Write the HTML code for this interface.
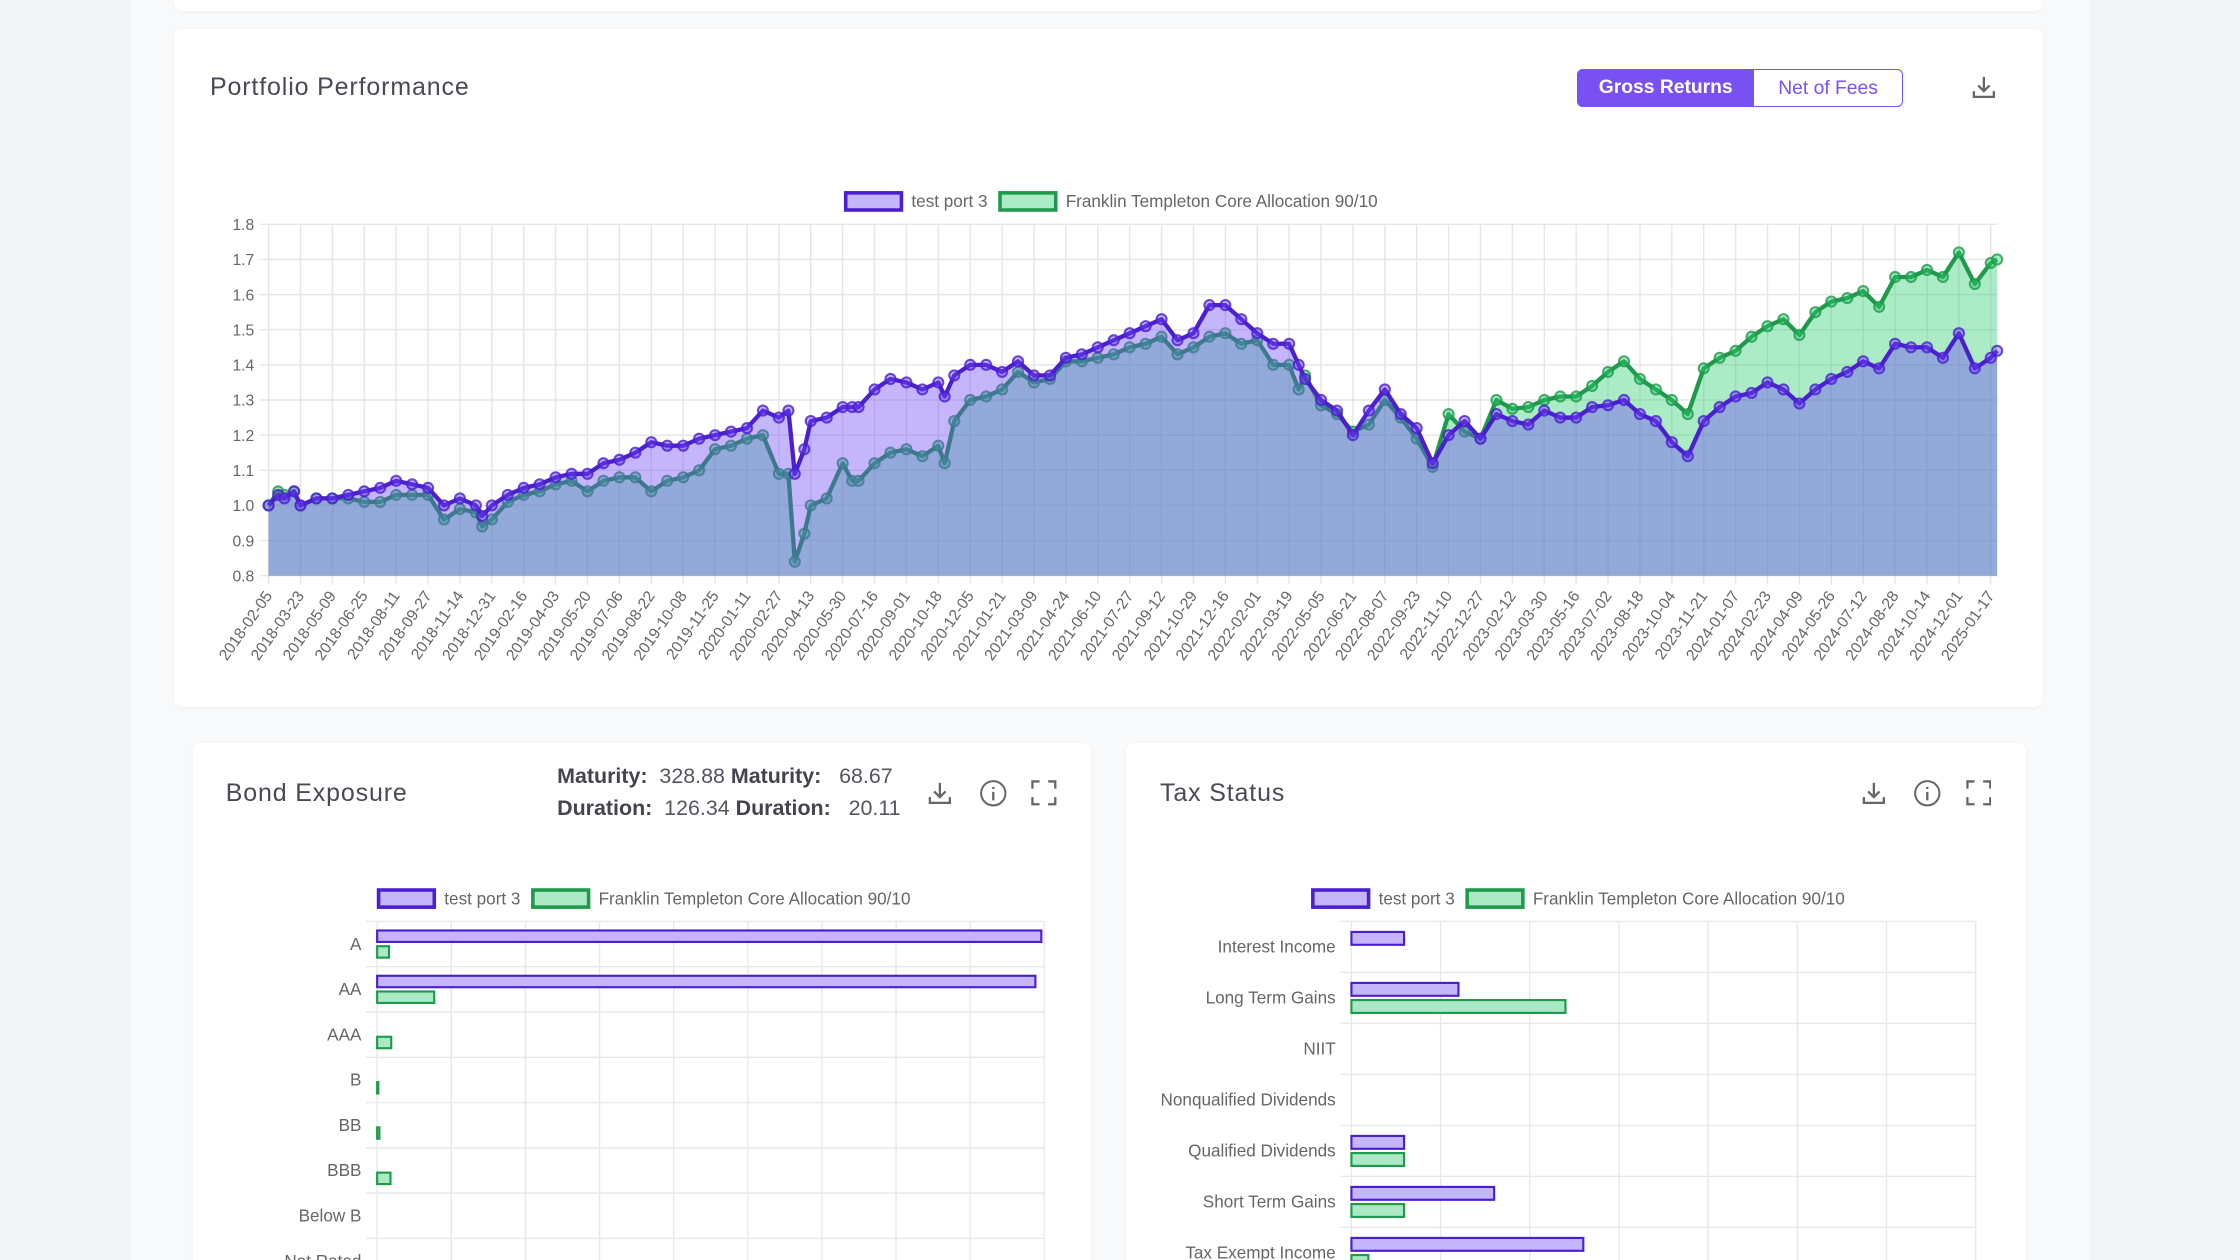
<!DOCTYPE html>
<html><head><meta charset="utf-8">
<style>
html,body{margin:0;padding:0;width:2240px;height:1260px;overflow:hidden;background:#f3f4f8;}
#root{position:relative;width:1568px;height:882px;zoom:1.4285714;font-family:"Liberation Sans",sans-serif;overflow:hidden;}
.col{position:absolute;left:92px;top:0;width:1370px;height:882px;background:#f8f9fb;}
.card{position:absolute;background:#fff;border-radius:6px;box-shadow:0 1px 3px rgba(0,0,0,0.04);}
.title{position:absolute;font-size:17.5px;color:#4a4a55;letter-spacing:0.6px;}
.btn{position:absolute;top:48px;height:27px;line-height:27px;font-size:13.5px;text-align:center;box-sizing:border-box;}
.icon{position:absolute;}
.stat{position:absolute;font-size:15px;color:#55555f;white-space:nowrap;}
.stat b{font-weight:bold;color:#44444f;}
</style></head><body>
<div id="root">
<div class="col"></div>
<div class="card" style="left:122px;top:-10px;width:1308px;height:18px"></div>

<div class="card" style="left:122px;top:20px;width:1308px;height:475px"></div>
<div class="title" style="left:147px;top:51px">Portfolio Performance</div>
<div class="btn" style="left:1104px;width:124px;background:#7950f2;color:#fff;border-radius:4px 0 0 4px;font-weight:bold;">Gross Returns</div>
<div class="btn" style="left:1228px;width:104px;background:#fff;color:#7950f2;border:1px solid #7950f2;border-left:none;border-radius:0 4px 4px 0;">Net of Fees</div>
<svg class="icon" style="left:1380px;top:52px" width="18" height="18" viewBox="0 0 18 18"><path d="M9 2v10M5 8l4 4 4-4M2 12v4h14v-4" fill="none" stroke="#666" stroke-width="1.6"/></svg>

<svg id="main" style="position:absolute;left:0;top:0" width="1568" height="500"></svg>

<div class="card" style="left:135px;top:520px;width:629px;height:400px"></div>
<div class="title" style="left:158px;top:545px">Bond Exposure</div>
<div class="stat" style="left:390px;top:535px"><b>Maturity:</b>&nbsp;&nbsp;328.88 <b>Maturity:</b>&nbsp;&nbsp;&nbsp;68.67</div>
<div class="stat" style="left:390px;top:557px"><b>Duration:</b>&nbsp;&nbsp;126.34 <b>Duration:</b>&nbsp;&nbsp;&nbsp;20.11</div>
<svg class="icon" style="left:649px;top:546px" width="18" height="18" viewBox="0 0 18 18"><path d="M9 2v10M5 8l4 4 4-4M2 12v4h14v-4" fill="none" stroke="#666" stroke-width="1.6"/></svg>
<svg class="icon" style="left:685px;top:545px" width="20" height="20" viewBox="0 0 20 20"><circle cx="10" cy="10" r="8.5" fill="none" stroke="#666" stroke-width="1.4"/><path d="M10 9v6M10 5.5v1.5" stroke="#666" stroke-width="1.6"/></svg>
<svg class="icon" style="left:722px;top:546px" width="18" height="18" viewBox="0 0 18 18"><path d="M1 6V1h5M12 1h5v5M17 12v5h-5M6 17H1v-5" fill="none" stroke="#666" stroke-width="1.6"/></svg>

<div class="card" style="left:788px;top:520px;width:630px;height:400px"></div>
<div class="title" style="left:812px;top:545px">Tax Status</div>
<svg class="icon" style="left:1303px;top:546px" width="18" height="18" viewBox="0 0 18 18"><path d="M9 2v10M5 8l4 4 4-4M2 12v4h14v-4" fill="none" stroke="#666" stroke-width="1.6"/></svg>
<svg class="icon" style="left:1339px;top:545px" width="20" height="20" viewBox="0 0 20 20"><circle cx="10" cy="10" r="8.5" fill="none" stroke="#666" stroke-width="1.4"/><path d="M10 9v6M10 5.5v1.5" stroke="#666" stroke-width="1.6"/></svg>
<svg class="icon" style="left:1376px;top:546px" width="18" height="18" viewBox="0 0 18 18"><path d="M1 6V1h5M12 1h5v5M17 12v5h-5M6 17H1v-5" fill="none" stroke="#666" stroke-width="1.6"/></svg>

<svg id="bond" style="position:absolute;left:0;top:0" width="1568" height="882"></svg>
<svg id="tax" style="position:absolute;left:0;top:0" width="1568" height="882"></svg>
</div>
<script>
// ---- Portfolio performance data ----
const tickLabels = ["2018-02-05","2018-03-23","2018-05-09","2018-06-25","2018-08-11","2018-09-27","2018-11-14","2018-12-31","2019-02-16","2019-04-03","2019-05-20","2019-07-06","2019-08-22","2019-10-08","2019-11-25","2020-01-11","2020-02-27","2020-04-13","2020-05-30","2020-07-16","2020-09-01","2020-10-18","2020-12-05","2021-01-21","2021-03-09","2021-04-24","2021-06-10","2021-07-27","2021-09-12","2021-10-29","2021-12-16","2022-02-01","2022-03-19","2022-05-05","2022-06-21","2022-08-07","2022-09-23","2022-11-10","2022-12-27","2023-02-12","2023-03-30","2023-05-16","2023-07-02","2023-08-18","2023-10-04","2023-11-21","2024-01-07","2024-02-23","2024-04-09","2024-05-26","2024-07-12","2024-08-28","2024-10-14","2024-12-01","2025-01-17"];
const yTicks = [0.8,0.9,1.0,1.1,1.2,1.3,1.4,1.5,1.6,1.7,1.8];
// time position in tick periods
const timePos = [0,0.3,0.5,0.8,1,1.5,2,2.5,3,3.5,4,4.5,5,5.5,6,6.5,6.7,7,7.5,8,8.5,9,9.5,10,10.5,11,11.5,12,12.5,13,13.5,14,14.5,15,15.5,16,16.3,16.5,16.8,17,17.5,18,18.3,18.5,19,19.5,20,20.5,21,21.2,21.5,22,22.5,23,23.5,24,24.5,25,25.5,26,26.5,27,27.5,28,28.5,29,29.5,30,30.5,31,31.5,32,32.3,32.5,33,33.5,34,34.5,35,35.5,36,36.5,37,37.5,38,38.5,39,39.5,40,40.5,41,41.5,42,42.5,43,43.5,44,44.5,45,45.5,46,46.5,47,47.5,48,48.5,49,49.5,50,50.5,51,51.5,52,52.5,53,53.5,54,54.2];
const testPort3 = [1.00,1.03,1.02,1.04,1.00,1.02,1.02,1.03,1.04,1.05,1.07,1.06,1.05,1.00,1.02,1.00,0.97,1.00,1.03,1.05,1.06,1.08,1.09,1.09,1.12,1.13,1.15,1.18,1.17,1.17,1.19,1.20,1.21,1.22,1.27,1.25,1.27,1.09,1.16,1.24,1.25,1.28,1.28,1.28,1.33,1.36,1.35,1.33,1.35,1.31,1.37,1.40,1.40,1.38,1.41,1.37,1.37,1.42,1.43,1.45,1.47,1.49,1.51,1.53,1.47,1.49,1.57,1.57,1.53,1.49,1.46,1.46,1.40,1.36,1.30,1.27,1.20,1.27,1.33,1.26,1.22,1.12,1.20,1.24,1.19,1.26,1.24,1.23,1.27,1.25,1.25,1.28,1.285,1.30,1.26,1.24,1.18,1.14,1.24,1.28,1.31,1.32,1.35,1.33,1.29,1.33,1.36,1.38,1.41,1.39,1.46,1.45,1.45,1.42,1.49,1.39,1.42,1.44];
const franklin = [1.00,1.04,1.03,1.04,1.00,1.02,1.02,1.02,1.01,1.01,1.03,1.03,1.03,0.96,0.99,0.98,0.94,0.96,1.01,1.03,1.04,1.06,1.07,1.04,1.07,1.08,1.08,1.04,1.07,1.08,1.10,1.16,1.17,1.19,1.20,1.09,1.09,0.84,0.92,1.00,1.02,1.12,1.07,1.07,1.12,1.15,1.16,1.14,1.17,1.12,1.24,1.30,1.31,1.33,1.38,1.35,1.36,1.41,1.41,1.42,1.43,1.45,1.46,1.48,1.43,1.45,1.48,1.49,1.46,1.47,1.40,1.40,1.33,1.37,1.285,1.26,1.21,1.23,1.30,1.25,1.19,1.11,1.26,1.21,1.19,1.30,1.275,1.28,1.30,1.31,1.31,1.34,1.38,1.41,1.36,1.33,1.30,1.26,1.39,1.42,1.44,1.48,1.51,1.53,1.485,1.55,1.58,1.59,1.61,1.565,1.65,1.65,1.67,1.65,1.72,1.63,1.69,1.70];

// ---- Bond exposure data ----
const bondCats = ["A","AA","AAA","B","BB","BBB","Below B","Not Rated"];
const bondTest = [89.6,88.8,0,0,0,0,0,0];
const bondFranklin = [1.6,7.7,1.9,0.1,0.3,1.8,0,0];
// ---- Tax status data ----
const taxCats = ["Interest Income","Long Term Gains","NIIT","Nonqualified Dividends","Qualified Dividends","Short Term Gains","Tax Exempt Income"];
const taxTest = [0.59,1.2,0,0,0.59,1.6,2.6];
const taxFranklin = [0,2.4,0,0,0.59,0.59,0.19];

const NS="http://www.w3.org/2000/svg";
function mk(parent,tag,attrs){const e=document.createElementNS(NS,tag);for(const k in attrs)e.setAttribute(k,attrs[k]);parent.appendChild(e);return e;}

// ---- main chart ----
(function(){
const svg=document.getElementById('main');
const X0=188,X1=1398,Y0=403,Y1=157,tMax=54.2,vMin=0.8,vMax=1.8;
const xs=t=>X0+(t/tMax)*(X1-X0);
const ys=v=>Y0-(v-vMin)/(vMax-vMin)*(Y0-Y1);
yTicks.forEach(v=>{
  const l=mk(svg,'line',{x1:X0-6,x2:X1,y1:ys(v),y2:ys(v),stroke:'#e6e6e6','stroke-width':1});
  
  
  const t=mk(svg,'text',{x:X0-10,y:ys(v)+4,'text-anchor':'end','font-size':11,fill:'#666','font-family':'Liberation Sans'});
  t.textContent=v.toFixed(1);
  
  
});
tickLabels.forEach((lab,i)=>{
  const x=xs(i);
  const l=mk(svg,'line',{x1:x,x2:x,y1:Y1,y2:Y0+6,stroke:'#e6e6e6','stroke-width':1});
  
  
  const t=mk(svg,'text',{x:0,y:0,'text-anchor':'end','font-size':11,fill:'#666','font-family':'Liberation Sans',transform:`translate(${x+3},${Y0+14}) rotate(-55)`});
  t.textContent=lab;
  
  
});
function areaPath(vals){let d=`M${xs(timePos[0])},${Y0}`;vals.forEach((v,i)=>d+=`L${xs(timePos[i])},${ys(v)}`);d+=`L${xs(timePos[timePos.length-1])},${Y0}Z`;return d;}
function linePath(vals){return vals.map((v,i)=>(i?'L':'M')+xs(timePos[i])+','+ys(v)).join('');}
function series(vals,fill,stroke,name){
  const a=mk(svg,'path',{d:areaPath(vals),fill:fill});
  
  
  const l=mk(svg,'path',{d:linePath(vals),fill:'none',stroke:stroke,'stroke-width':3,'stroke-linejoin':'round'});
  
  
  vals.forEach((v,i)=>{
    const c=mk(svg,'circle',{cx:xs(timePos[i]),cy:ys(v),r:3.5,fill:fill,stroke:stroke,'stroke-width':1.5,'stroke-opacity':0.8});
    
    
  });
}
series(franklin,'rgba(46,204,113,0.4)','#1f9a4c','franklin');
series(testPort3,'rgba(110,70,245,0.4)','#4a1fcf','test-port-3');
const lg=[[591,'test port 3','rgba(110,70,245,0.4)','#4a1fcf'],[699,'Franklin Templeton Core Allocation 90/10','rgba(46,204,113,0.4)','#1f9a4c']];
lg.forEach(([x,t,f,s])=>{
  const r=mk(svg,'rect',{x:x+1,y:135,width:39,height:12,fill:f,stroke:s,'stroke-width':2.5});
  
  
  const tx=mk(svg,'text',{x:x+47,y:145,'font-size':12,fill:'#666','font-family':'Liberation Sans'});
  tx.textContent=t;
  
  
});
})();

// ---- horizontal bar charts ----
function hbar(svgId,cats,a,b,cfg){
  const svg=document.getElementById(svgId);
  const xs=v=>cfg.x0+v/cfg.max*(cfg.x1-cfg.x0);
  for(let i=0;i<=cfg.nGrid;i++){
    const x=cfg.x0+i*(cfg.x1-cfg.x0)/cfg.nGrid;
    const l=mk(svg,'line',{x1:x,x2:x,y1:cfg.y0,y2:882,stroke:'#e8e8e8','stroke-width':1});
    
    
  }
  cats.forEach((c,i)=>{
    const top=cfg.y0+i*cfg.row;
    const gl=mk(svg,'line',{x1:cfg.x0-8,x2:cfg.x1,y1:top,y2:top,stroke:'#e8e8e8','stroke-width':1});
    
    
    const mid=top+cfg.row/2;
    const t=mk(svg,'text',{x:cfg.x0-11,y:mid+4,'text-anchor':'end','font-size':12,fill:'#666','font-family':'Liberation Sans'});
    t.textContent=c;
    
    
    const bh=cfg.bh;
    if(a[i]>0){const r=mk(svg,'rect',{x:cfg.x0,y:mid-bh-1.5,width:xs(a[i])-cfg.x0,height:bh,fill:'#c5b5fb',stroke:'#4a1fcf','stroke-width':1.5});
      
      }
    if(b[i]>0){const r=mk(svg,'rect',{x:cfg.x0,y:mid+1.5,width:Math.max(xs(b[i])-cfg.x0,0.8),height:bh,fill:'#abe8c5',stroke:'#1f9a4c','stroke-width':1.5});
      
      }
  });
  [[cfg.lx,'test port 3','#c5b5fb','#4a1fcf'],[cfg.lx2,'Franklin Templeton Core Allocation 90/10','#abe8c5','#1f9a4c']].forEach(([x,t,f,s])=>{
    const r=mk(svg,'rect',{x:x+1,y:623,width:39,height:12,fill:f,stroke:s,'stroke-width':2.5});
    
    
    const tx=mk(svg,'text',{x:x+47,y:633,'font-size':12,fill:'#666','font-family':'Liberation Sans'});
    tx.textContent=t;
    
    
  });
}
hbar('bond',bondCats,bondTest,bondFranklin,{x0:264,x1:731,max:90,nGrid:9,y0:645,row:31.7,bh:8,lx:264,lx2:372});
hbar('tax',taxCats,taxTest,taxFranklin,{x0:946,x1:1383,max:7,nGrid:7,y0:645,row:35.7,bh:9,lx:918,lx2:1026});
</script>
</body></html>
